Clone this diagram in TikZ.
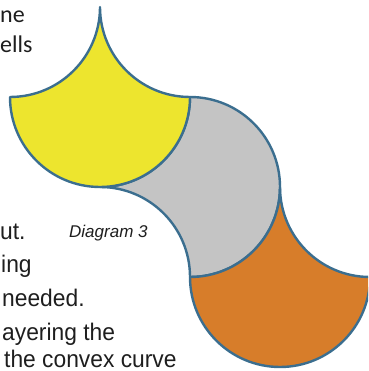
\documentclass[tikz,border=0pt]{standalone}
\usepackage{fontspec}
\newfontfamily\carlitofont{Carlito}
\newfontfamily\bodyfont[FakeStretch=0.95]{Liberation Sans}
\newfontfamily\capfont{Liberation Sans}
\definecolor{edgeblue}{HTML}{3B6E8F}
\definecolor{scaleyellow}{HTML}{EDE52E}
\definecolor{scalegrey}{HTML}{C4C4C4}
\definecolor{scaleorange}{HTML}{D77D2A}
\definecolor{txt}{HTML}{1E1E1E}
\begin{document}
\begin{tikzpicture}[x=1pt,y=1pt,
  fishscale/.style={draw=edgeblue,line width=2.4pt,line join=round},
  bodytext/.style={anchor=base west,inner sep=0pt,text=txt,font=\bodyfont\fontsize{24}{28}\selectfont},
  toptext/.style={anchor=base west,inner sep=0pt,text=txt,font=\carlitofont\fontsize{24}{29}\selectfont},
  captext/.style={anchor=base west,inner sep=0pt,text=txt,font=\capfont\itshape\fontsize{17}{20}\selectfont}]
\useasboundingbox (0,0) rectangle (368,371);
\clip (0,0) rectangle (368,371);
% grey scale (pointing left)
\draw[fishscale,fill=scalegrey] (100,184) arc[start angle=-90,end angle=0,radius=90]
  arc[start angle=90,end angle=-90,radius=90]
  arc[start angle=0,end angle=90,radius=90] -- cycle;
% yellow scale
\draw[fishscale,fill=scaleyellow] (10,274) arc[start angle=-90,end angle=0,radius=90]
  arc[start angle=180,end angle=270,radius=90]
  arc[start angle=0,end angle=-180,radius=90] -- cycle;
% orange scale
\draw[fishscale,fill=scaleorange] (190,94) arc[start angle=-90,end angle=0,radius=90]
  arc[start angle=180,end angle=270,radius=90]
  arc[start angle=0,end angle=-180,radius=90] -- cycle;
% texts
\node[toptext] (t1) at (0,348) {ne};
\node[toptext] (t2) at (0,318) {ells};
\node[bodytext] (t3) at (0,131) {ut.};
\node[bodytext] (t4) at (1,98) {ing};
\node[bodytext] (t5) at (2,64) {needed.};
\node[bodytext] (t6) at (2,30) {ayering the};
\node[bodytext] (t7) at (4,3) {the convex curve};
\node[captext] (cap) at (69,133) {Diagram 3};
\end{tikzpicture}
\end{document}
